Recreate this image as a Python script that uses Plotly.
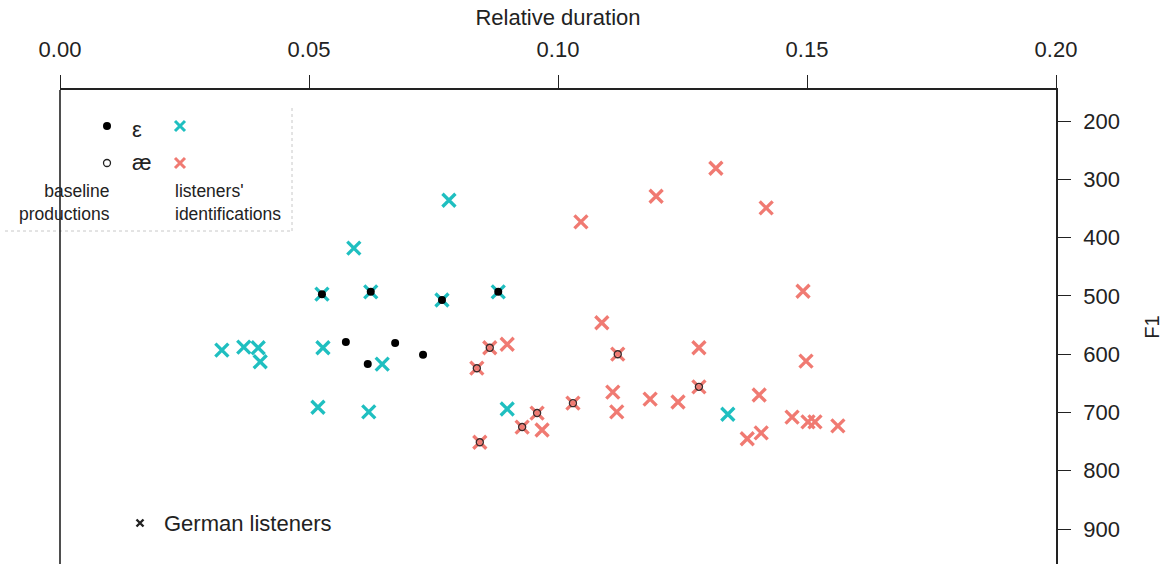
import plotly.graph_objects as go

# ---------------- data ----------------
# listeners' identifications as /ɛ/ (cyan crosses)
eps_id_dur = [0.0781, 0.0590, 0.0526, 0.0624, 0.0767, 0.0880, 0.0325, 0.0369,
              0.0398, 0.0402, 0.0528, 0.0647, 0.0518, 0.0620, 0.0898, 0.1341]
eps_id_f1 = [336, 418, 497, 493, 507, 493, 593, 588,
             589, 613, 589, 617, 691, 699, 694, 703]

# listeners' identifications as /æ/ (red crosses)
ae_id_dur = [0.1046, 0.1197, 0.1317, 0.1418, 0.1492, 0.1088, 0.0863, 0.0898,
             0.1120, 0.1283, 0.1498, 0.0837, 0.1110, 0.1185, 0.1241, 0.1283,
             0.1404, 0.0958, 0.1030, 0.1118, 0.1470, 0.1502, 0.1516, 0.1562,
             0.0928, 0.0968, 0.1408, 0.1380, 0.0843]
ae_id_f1 = [373, 329, 281, 349, 492, 546, 589, 583,
            600, 589, 612, 624, 665, 677, 682, 656,
            670, 701, 684, 699, 708, 716, 716, 723,
            725, 730, 735, 745, 751]

# baseline productions /ɛ/ (filled dots)
eps_base_dur = [0.0526, 0.0624, 0.0767, 0.0880, 0.0574, 0.0673, 0.0618, 0.0729]
eps_base_f1 = [497, 493, 507, 493, 579, 581, 617, 601]

# baseline productions /æ/ (open circles)
ae_base_dur = [0.0863, 0.1120, 0.0837, 0.1283, 0.0958, 0.1030, 0.0928, 0.0843]
ae_base_f1 = [589, 600, 624, 656, 701, 684, 725, 751]

x_tick_vals = [0.00, 0.05, 0.10, 0.15, 0.20]
x_tick_text = ["0.00", "0.05", "0.10", "0.15", "0.20"]
y_tick_vals = [200, 300, 400, 500, 600, 700, 800, 900]
y_tick_text = ["200", "300", "400", "500", "600", "700", "800", "900"]

# ---------------- layout constants ----------------
W, H = 1172, 564
L, R, T, B = 60, 116, 90, 0
CYAN = "#1FBFC0"
RED = "#F07A72"
INK = "#222222"
FONT = "Liberation Sans, Arial, sans-serif"


def px(x):
    return (x - L) / (W - L - R)


def py(y):
    return (H - B - y) / (H - T - B)


fig = go.Figure()

fig.add_trace(go.Scatter(
    x=eps_id_dur, y=eps_id_f1, mode="markers", name="ɛ identified",
    marker=dict(symbol="x-thin-open", size=13, color=CYAN,
                line=dict(width=3.3, color=CYAN))))
fig.add_trace(go.Scatter(
    x=ae_id_dur, y=ae_id_f1, mode="markers", name="æ identified",
    marker=dict(symbol="x-thin-open", size=13, color=RED,
                line=dict(width=3.3, color=RED))))
fig.add_trace(go.Scatter(
    x=eps_base_dur, y=eps_base_f1, mode="markers", name="ɛ baseline",
    marker=dict(symbol="circle", size=8, color="black",
                line=dict(width=0))))
fig.add_trace(go.Scatter(
    x=ae_base_dur, y=ae_base_f1, mode="markers", name="æ baseline",
    marker=dict(symbol="circle-open", size=7, color="#3a2a2a",
                line=dict(width=1.4, color="#3a2a2a"))))

# ---------------- custom key (pixel-space overlay axes) ----------------
key_x = [107, 180, 107, 180, 140]
key_y = [126, 126, 163, 163, 523]
key_symbol = ["circle", "x-thin-open", "circle-open", "x-thin-open", "x-thin-open"]
key_color = ["black", CYAN, "#222222", RED, "#222222"]
key_size = [8, 10, 7, 10, 7]
key_lw = [0, 3, 1.3, 3, 2.4]
for kx, ky, ks, kc, kz, kl in zip(key_x, key_y, key_symbol, key_color, key_size, key_lw):
    fig.add_trace(go.Scatter(
        x=[kx], y=[ky], xaxis="x2", yaxis="y2", mode="markers",
        marker=dict(symbol=ks, size=kz, color=kc, line=dict(width=kl, color=kc)),
        hoverinfo="skip"))

ann = [
    dict(text="ε", x=px(130), y=py(129), xanchor="left", yanchor="middle", size=22),
    dict(text="æ", x=px(130), y=py(162), xanchor="left", yanchor="middle", size=22),
    dict(text="baseline<br>productions", x=px(112), y=py(202), xanchor="right",
         yanchor="middle", size=17.5, align="right"),
    dict(text="listeners'<br>identifications", x=px(173), y=py(202), xanchor="left",
         yanchor="middle", size=17.5, align="left"),
    dict(text="German listeners", x=px(162), y=py(523), xanchor="left",
         yanchor="middle", size=22),
]
for a in ann:
    fig.add_annotation(text=a["text"], x=a["x"], y=a["y"], xref="paper", yref="paper",
                       xanchor=a["xanchor"], yanchor=a["yanchor"], showarrow=False,
                       align=a.get("align", "left"),
                       font=dict(family=FONT, size=a["size"], color=INK))

# faint dotted frame of the key
fig.add_shape(type="line", xref="paper", yref="paper", x0=px(5), x1=px(292),
              y0=py(231), y1=py(231), line=dict(color="#c8c8c8", width=1, dash="dot"))
fig.add_shape(type="line", xref="paper", yref="paper", x0=px(292), x1=px(292),
              y0=py(108), y1=py(231), line=dict(color="#c8c8c8", width=1, dash="dot"))
# left frame line
fig.add_shape(type="line", xref="paper", yref="paper", x0=0, x1=0, y0=0, y1=1,
              line=dict(color=INK, width=1.6))

fig.update_layout(
    width=W, height=H,
    margin=dict(l=L, r=R, t=T, b=B, pad=0),
    paper_bgcolor="white", plot_bgcolor="white",
    showlegend=False,
    font=dict(family=FONT, color=INK),
    xaxis=dict(
        range=[0, 0.2], side="top", showgrid=False, zeroline=False,
        showline=True, linecolor=INK, linewidth=1.6,
        ticks="outside", ticklen=13, tickwidth=1.4, tickcolor=INK,
        tickvals=x_tick_vals, ticktext=x_tick_text,
        tickfont=dict(size=22, family=FONT, color=INK),
        ticklabelstandoff=9,
        title=dict(text="Relative duration", font=dict(size=22, family=FONT, color=INK),
                   standoff=6),
    ),
    yaxis=dict(
        range=[959.9, 146.8], side="right", showgrid=False, zeroline=False,
        showline=True, linecolor=INK, linewidth=1.6,
        ticks="outside", ticklen=13, tickwidth=1.4, tickcolor=INK,
        tickvals=y_tick_vals, ticktext=y_tick_text,
        tickfont=dict(size=22, family=FONT, color=INK),
        ticklabelstandoff=8,
        title=dict(text="F1", font=dict(size=20, family=FONT, color=INK), standoff=26),
    ),
    xaxis2=dict(range=[L, W - R], overlaying="x", visible=False, anchor="y2"),
    yaxis2=dict(range=[H - B, T], overlaying="y", visible=False, anchor="x2"),
)

fig.write_html("out.html")
